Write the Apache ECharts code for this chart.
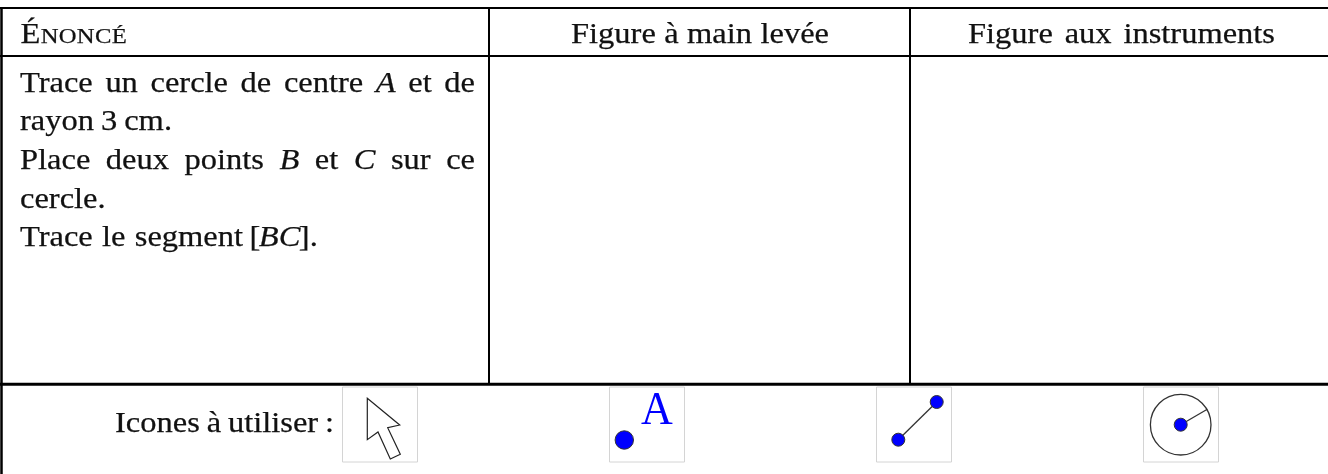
<!DOCTYPE html>
<html>
<head>
<meta charset="utf-8">
<style>
  html, body { margin: 0; padding: 0; background: #fff; }
  #main { width: 1328px; height: 474px; }
</style>
<script src="https://cdn.jsdelivr.net/npm/echarts@6/dist/echarts.min.js"></script>
</head>
<body>
<div id="main"></div>
<script>
const headerCols = ["Figure à main levée", "Figure aux instruments"];
const statementLines = [
  ["Trace", "un", "cercle", "de", "centre", "*A", "et", "de"],
  ["rayon", "3", "cm."],
  ["Place", "deux", "points", "*B", "et", "*C", "sur", "ce"],
  ["cercle."],
  ["Trace", "le", "segment"],
  ["[", "*BC", "]."],
];
const iconLabel = ["Icones", "à", "utiliser", ":"];
const pointLabel = "A";
const capsLetters = ["É", "N", "O", "N", "C", "É"];

const FONT = "Liberation Serif";
const SIZE = 29;
const WIDEN = 1.12; // Liberation is narrower than the original face
const INK = "#111";
const BLUE = "#0000ff";
const MID_TO_BASE = 0.2375; // text middle above the baseline, in em

const ctx = document.createElement("canvas").getContext("2d");

function fontOf(size, italic) {
  return `${italic ? "italic " : ""}${size}px "${FONT}"`;
}

function wordWidth(word, size, italic) {
  ctx.font = fontOf(size, italic);
  return ctx.measureText(word).width * WIDEN;
}

function word(text, x, baseline, size, italic) {
  return {
    type: "text",
    x,
    y: baseline - MID_TO_BASE * size,
    scaleX: WIDEN,
    style: {
      text,
      fill: INK,
      stroke: INK,
      lineWidth: 0.25,
      font: fontOf(size, italic),
      textAlign: "left",
      textVerticalAlign: "middle",
    },
  };
}

// lays words between x0 and x1, the spaces take up whatever is left
function textLine(words, x0, x1, baseline, glueFixed) {
  const parts = words.map((w) => {
    const italic = w[0] === "*";
    const text = italic ? w.slice(1) : w;
    return { text, italic, width: wordWidth(text, SIZE, italic) };
  });
  const used = parts.reduce((s, p) => s + p.width, 0);
  let glue = glueFixed;
  if (glue === undefined) glue = parts.length < 2 ? 0 : (x1 - x0 - used) / (parts.length - 1);
  let x = x0;
  return parts.map((p) => {
    const el = word(p.text, x, baseline, SIZE, p.italic);
    x += p.width + glue;
    return el;
  });
}

function smallCaps(x, baseline) {
  return capsLetters.map((ch, i) => {
    const size = i === 0 ? SIZE : 22;
    const el = word(ch, x, baseline, size, false);
    x += wordWidth(ch, size, false) + 0.3;
    return el;
  });
}

function rule(x1, y1, x2, y2, width, color) {
  return { type: "line", shape: { x1, y1, x2, y2 }, style: { stroke: color || "#000", lineWidth: width } };
}

function iconBox(x) {
  return { type: "rect", shape: { x, y: 387, width: 75, height: 75 }, style: { fill: "#fff", stroke: "#d4d4d4", lineWidth: 1 } };
}

function dot(cx, cy, r) {
  return { type: "circle", shape: { cx, cy, r }, style: { fill: BLUE, stroke: "#333", lineWidth: 1 } };
}

const elements = [
  // table rules
  rule(0, 8, 1328, 8, 2),
  rule(0, 56, 1328, 56, 2),
  rule(0, 384.3, 1328, 384.3, 3),
  rule(1.5, 8, 1.5, 474, 2.5),
  rule(489, 8, 489, 384, 2),
  rule(910, 8, 910, 384, 2),

  // header row
  ...smallCaps(20.5, 42),
  ...textLine(headerCols[0].split(" "), 571, 829, 42),
  ...textLine(headerCols[1].split(" "), 968, 1275, 42),

  // statement
  ...textLine(statementLines[0], 20, 475, 91),
  ...textLine(statementLines[1], 20, 172, 129.7),
  ...textLine(statementLines[2], 20, 475, 168.4),
  ...textLine(statementLines[3], 20, 102, 207),
  ...textLine(statementLines[4], 20, 243, 245.5),
  ...textLine(statementLines[5], 249.5, 316, 245.5, -1.5),

  // icons row
  ...textLine(iconLabel, 115, 334, 431),
  iconBox(342.5),
  iconBox(609.5),
  iconBox(876.5),
  iconBox(1143.5),

  // arrow icon
  {
    type: "polygon",
    shape: {
      points: [[367.3, 398.3], [399.7, 425], [387.7, 427.7], [400.3, 454.3], [390.3, 459], [378, 432], [367.3, 439.7]],
    },
    style: { fill: "#fff", stroke: "#222", lineWidth: 1.2 },
  },

  // point icon
  dot(624.3, 440, 9.2),
  {
    type: "text",
    x: 657,
    y: 423 - MID_TO_BASE * 44 * 1.07,
    scaleY: 1.07,
    style: { text: pointLabel, fill: BLUE, font: fontOf(44, false), textAlign: "center", textVerticalAlign: "middle" },
  },

  // segment icon
  rule(898.3, 439.7, 936.7, 402, 1.3, "#333"),
  dot(898.3, 439.7, 6.5),
  dot(936.7, 402, 6.5),

  // circle icon
  { type: "circle", shape: { cx: 1180.7, cy: 424.7, r: 30.3 }, style: { fill: "#fff", stroke: "#333", lineWidth: 1.3 } },
  rule(1180.7, 424.7, 1207.3, 409.3, 1.3, "#333"),
  dot(1180.7, 424.7, 6.5),
];

const chart = echarts.init(document.getElementById("main"), null, { renderer: "canvas" });
chart.setOption({
  animation: false,
  backgroundColor: "#fff",
  graphic: { elements },
});
</script>
</body>
</html>
